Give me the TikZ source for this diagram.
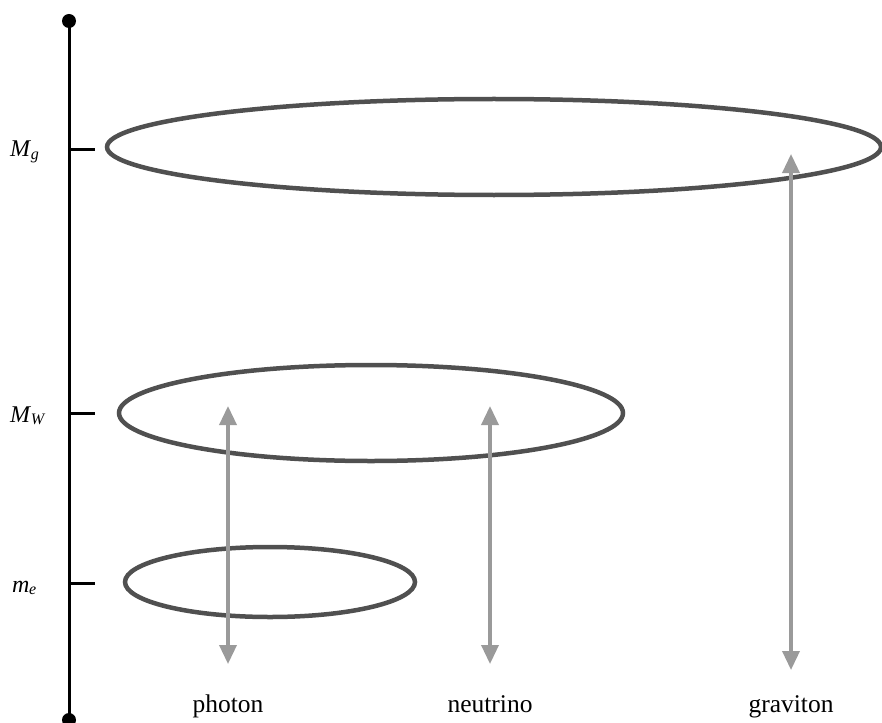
\documentclass[tikz,border=0pt]{standalone}
\usepackage{fontspec}
\setmainfont{Liberation Serif}
\usetikzlibrary{arrows.meta}
\definecolor{ellcol}{HTML}{505050}
\definecolor{arrcol}{HTML}{9A9A9A}
\tikzset{
  axisline/.style={line width=3pt,black},
  tickline/.style={line width=3pt,black},
  level/.style={draw=ellcol,line width=4.5pt},
  transition/.style={draw=arrcol,line width=3.5pt,{Triangle[width=17pt,length=19pt]}-{Triangle[width=17pt,length=19pt]}},
  axislabel/.style={font=\fontsize{24}{26}\selectfont,anchor=base west,inner sep=0pt},
  partlabel/.style={font=\fontsize{25.5}{28}\selectfont,anchor=base,inner sep=0pt}
}
\newcommand{\sublab}[2]{\textit{#1}\kern-0.5pt\raisebox{-2.5pt}{\fontsize{16}{18}\selectfont\textit{#2}}}
\begin{document}
\begin{tikzpicture}[x=1pt,y=-1pt]
\useasboundingbox (0,0) rectangle (882,722);
% axis
\coordinate (top) at (69,21);
\coordinate (bot) at (69,720);
\draw[axisline] (top) -- (bot);
\fill (top) circle (7);
\fill (bot) circle (7);
% ticks
\coordinate (tg0) at (69,150); \coordinate (tg1) at (95,150);
\coordinate (tw0) at (69,413); \coordinate (tw1) at (95,413);
\coordinate (te0) at (69,583); \coordinate (te1) at (95,583);
\draw[tickline] (tg0) -- (tg1);
\draw[tickline] (tw0) -- (tw1);
\draw[tickline] (te0) -- (te1);
\node[axislabel] (lg) at (10,157) {\sublab{M}{g}};
\node[axislabel] (lw) at (10,422) {\sublab{M}{W}};
\node[axislabel] (le) at (12,592) {\sublab{m}{e}};
% ellipses
\draw[level] (494,147) ellipse [x radius=387, y radius=48];
\draw[level] (371,413) ellipse [x radius=252, y radius=48];
\draw[level] (270,582) ellipse [x radius=145, y radius=35];
% arrows
\coordinate (pa) at (228,406); \coordinate (pb) at (228,664);
\coordinate (na) at (490,406); \coordinate (nb) at (490,664);
\coordinate (ga) at (791,154); \coordinate (gb) at (791,670);
\draw[transition] (pa) -- (pb);
\draw[transition] (na) -- (nb);
\draw[transition] (ga) -- (gb);
\node[partlabel] (photon) at (228,712) {photon};
\node[partlabel] (neutrino) at (490,712) {neutrino};
\node[partlabel] (graviton) at (791,712) {graviton};
\end{tikzpicture}
\end{document}
